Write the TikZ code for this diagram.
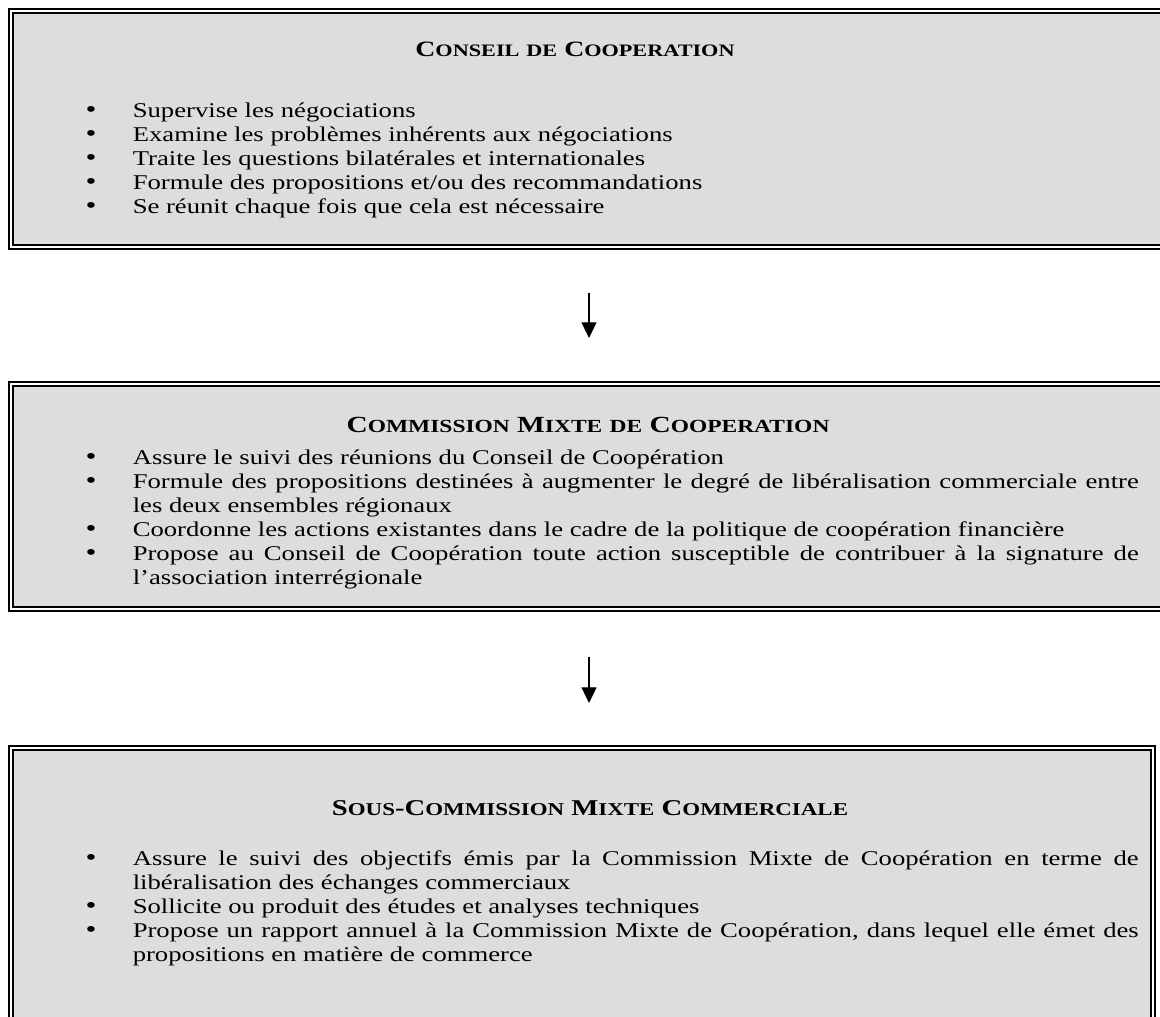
\documentclass[tikz,border=0pt]{standalone}
\usepackage{fontspec}
\setmainfont{Liberation Serif}[FakeStretch=1.27]
\usetikzlibrary{fit,positioning,arrows.meta}
\definecolor{fondgris}{RGB}{221,221,221}
\hyphenpenalty=10000
\exhyphenpenalty=10000
\newcommand{\fsize}{12.5pt}
\newcommand{\pcap}[2]{#1{\fontsize{0.8\dimexpr\fsize\relax}{10}\selectfont #2}}
\newcommand{\puce}[1]{\noindent\hangindent=26.9pt\hangafter=1\makebox[26.9pt][l]{\fontsize{14}{14}\selectfont\textbullet}#1\par}
\tikzset{
    cadre/.style={draw, fill=fondgris, line width=1.2pt, double=white, double distance=1pt, inner sep=0pt},
    titre/.style={anchor=base, inner sep=0pt, font=\bfseries\fontsize{\fsize}{15}\selectfont},
    liste/.style={anchor=base west, inner sep=0pt, text width=601.7pt, align=justify, font=\fontsize{12}{13.8}\selectfont},
}

\begin{document}
\begin{tikzpicture}[x=0.5714pt,y=-0.5714pt,>={Triangle[length=9pt,width=8.6pt]},thick]
    \useasboundingbox (0,0) rectangle (1160,1016);
    \clip (0,0) rectangle (1160,1016);

    % cadres
    \node[cadre, fit={(11,11) (1185,247)}] (b1) {};
    \node[cadre, fit={(11,384) (1185,609)}] (b2) {};
    \node[cadre, fit={(11,748) (1153,1030)}] (b3) {};

    % conseil
    \node[titre] (t1) at (575,56) {\pcap{C}{ONSEIL} \pcap{}{DE} \pcap{C}{OOPERATION}};
    \node[liste] (l1) at (85,117) {%
        \puce{Supervise les négociations}
        \puce{Examine les problèmes inhérents aux négociations}
        \puce{Traite les questions bilatérales et internationales}
        \puce{Formule des propositions et/ou des recommandations}
        \puce{Se réunit chaque fois que cela est nécessaire}};

    % commission mixte
    \renewcommand{\fsize}{13.2pt}
    \node[titre] (t2) at (588,432) {\pcap{C}{OMMISSION} \pcap{M}{IXTE} \pcap{}{DE} \pcap{C}{OOPERATION}};
    \node[liste] (l2) at (85,464) {%
        \puce{Assure le suivi des réunions du Conseil de Coopération}
        \puce{Formule des propositions destinées à augmenter le degré de libéralisation commerciale entre les deux ensembles régionaux}
        \puce{Coordonne les actions existantes dans le cadre de la politique de coopération financière}
        \puce{Propose au Conseil de Coopération toute action susceptible de contribuer à la signature de l’association interrégionale}};

    % sous-commission
    \renewcommand{\fsize}{12.9pt}
    \node[titre] (t3) at (590,815) {\pcap{S}{OUS}-\pcap{C}{OMMISSION} \pcap{M}{IXTE} \pcap{C}{OMMERCIALE}};
    \node[liste] (l3) at (85,865) {%
        \puce{Assure le suivi des objectifs émis par la Commission Mixte de Coopération en terme de libéralisation des échanges commerciaux}
        \puce{Sollicite ou produit des études et analyses techniques}
        \puce{Propose un rapport annuel à la Commission Mixte de Coopération, dans lequel elle émet des propositions en matière de commerce}};

    % fleches
    \coordinate (f1a) at (589,293);
    \coordinate (f1b) at (589,338);
    \coordinate (f2a) at (589,657);
    \coordinate (f2b) at (589,703);
    \draw[->, line width=0.7pt] (f1a) -- (f1b);
    \draw[->, line width=0.7pt] (f2a) -- (f2b);
\end{tikzpicture}
\end{document}
